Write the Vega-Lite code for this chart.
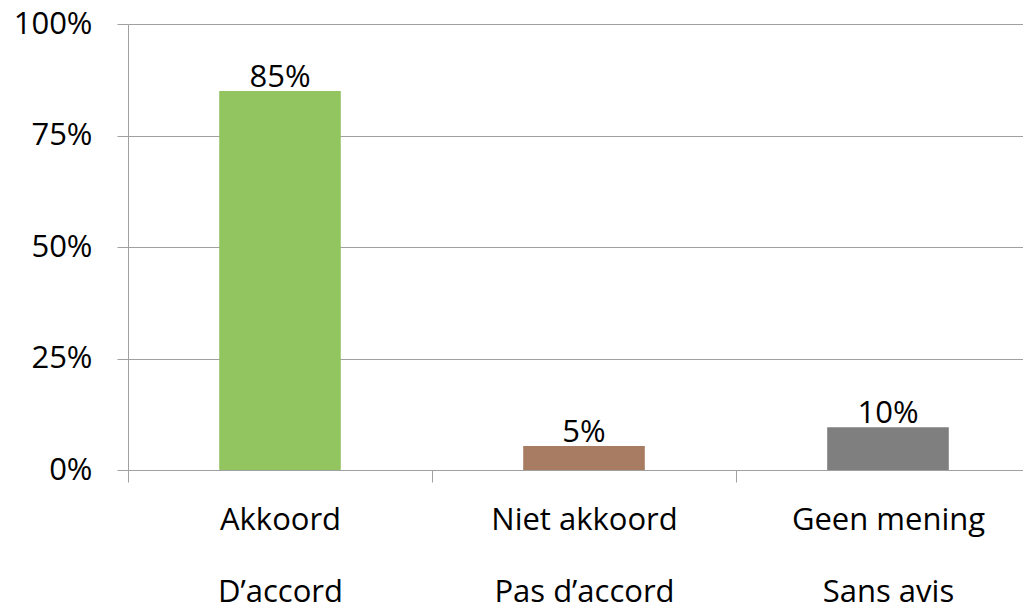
{
  "$schema": "https://vega.github.io/schema/vega-lite/v6.json",
  "width": 912,
  "height": 446,
  "autosize": {"type": "none"},
  "padding": {"left": 128, "top": 24, "right": 0, "bottom": 135},
  "background": "white",
  "config": {"view": {"stroke": null}, "font": "Open Sans"},
  "data": {
    "values": [
      {"category": "Akkoord|D’accord", "value": 0.85, "label": "85%"},
      {"category": "Niet akkoord|Pas d’accord", "value": 0.054, "label": "5%"},
      {"category": "Geen mening|Sans avis", "value": 0.096, "label": "10%"}
    ]
  },
  "encoding": {
    "x": {
      "field": "category",
      "type": "nominal",
      "sort": null,
      "scale": {"paddingInner": 0, "paddingOuter": 0},
      "axis": {
        "title": null,
        "labelExpr": "datum.value ? split(datum.value, '|') : ''",
        "labelAngle": 0,
        "labelFontSize": 31,
        "labelColor": "#000000",
        "labelPadding": 23,
        "labelLineHeight": 72,
        "labelLimit": 0,
        "tickBand": "extent",
        "tickSize": 12,
        "tickColor": "#a0a0a0",
        "domainColor": "#a0a0a0",
        "grid": false
      }
    },
    "y": {
      "field": "value",
      "type": "quantitative",
      "scale": {"domain": [0, 1], "nice": false},
      "axis": {
        "title": null,
        "values": [0, 0.25, 0.5, 0.75, 1],
        "format": ".0%",
        "labelFontSize": 31,
        "labelColor": "#000000",
        "labelPadding": 25,
        "tickSize": 11,
        "tickColor": "#a0a0a0",
        "domainColor": "#a0a0a0",
        "grid": true,
        "gridColor": "#a0a0a0",
        "gridWidth": 1
      }
    }
  },
  "layer": [
    {
      "mark": {"type": "bar", "width": {"band": 0.4}},
      "encoding": {
        "color": {
          "field": "category",
          "type": "nominal",
          "legend": null,
          "scale": {
            "domain": ["Akkoord|D’accord", "Niet akkoord|Pas d’accord", "Geen mening|Sans avis"],
            "range": ["#92c460", "#a77c62", "#7f7f7f"]
          }
        }
      }
    },
    {
      "mark": {"type": "text", "baseline": "alphabetic", "dy": -4, "fontSize": 31, "color": "#000000"},
      "encoding": {"text": {"field": "label"}}
    }
  ]
}
